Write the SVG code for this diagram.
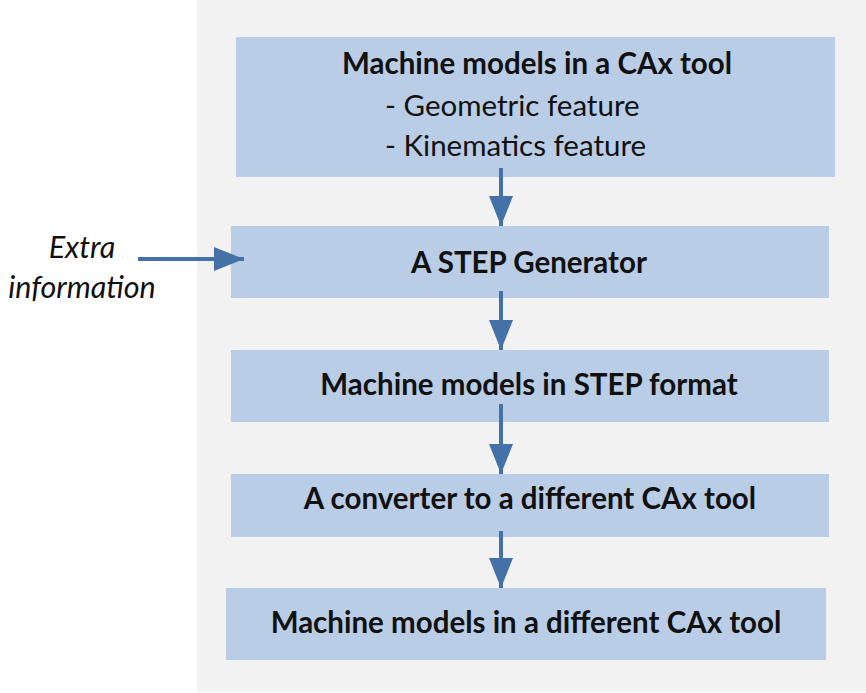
<svg xmlns="http://www.w3.org/2000/svg" width="866" height="693" viewBox="0 0 866 693">
<defs>
<style>
.box{fill:#b9cde6;}
.t{font-family:Lato,"Liberation Sans",sans-serif;font-size:29.5px;fill:#111;text-anchor:middle;}
.b{font-weight:bold;}
.i{font-style:italic;font-size:30.5px;}
.c{stroke:#4472a8;stroke-width:4;fill:none;}
</style>
<marker id="ah" viewBox="0 0 15 12" refX="15" refY="6" markerWidth="7.5" markerHeight="6" markerUnits="strokeWidth" orient="auto">
<path d="M0,0 L15,6 L0,12 z" fill="#4472a8"/>
</marker>
</defs>
<rect x="0" y="0" width="866" height="693" fill="#ffffff"/>
<rect x="197" y="0" width="669" height="692" fill="#f2f2f2"/>
<g id="n1">
<rect class="box" x="236" y="37" width="599" height="140"/>
<text class="t b" x="537" y="74">Machine models in a CAx tool</text>
<text class="t" x="385" y="116" style="text-anchor:start">- Geometric feature</text>
<text class="t" x="385" y="156" style="text-anchor:start">- Kinematics feature</text>
</g>
<g id="n2">
<rect class="box" x="231" y="226" width="598" height="72"/>
<text class="t b" x="529" y="273">A STEP Generator</text>
</g>
<g id="n3">
<rect class="box" x="231" y="350" width="598" height="72"/>
<text class="t b" x="529" y="395">Machine models in STEP format</text>
</g>
<g id="n4">
<rect class="box" x="231" y="474" width="598" height="63"/>
<text class="t b" x="530" y="509">A converter to a different CAx tool</text>
</g>
<g id="n5">
<rect class="box" x="226" y="588" width="600" height="72"/>
<text class="t b" x="526" y="633">Machine models in a different CAx tool</text>
</g>
<g id="extra">
<text class="t i" x="82" y="258">Extra</text>
<text class="t i" x="82" y="298">information</text>
</g>
<g id="connectors">
<line class="c" x1="501" y1="168" x2="501" y2="226" marker-end="url(#ah)"/>
<line class="c" x1="501" y1="291" x2="501" y2="350" marker-end="url(#ah)"/>
<line class="c" x1="501" y1="404" x2="501" y2="474" marker-end="url(#ah)"/>
<line class="c" x1="501" y1="531" x2="501" y2="588" marker-end="url(#ah)"/>
<line class="c" x1="138" y1="259" x2="244" y2="259" marker-end="url(#ah)"/>
</g>
</svg>
